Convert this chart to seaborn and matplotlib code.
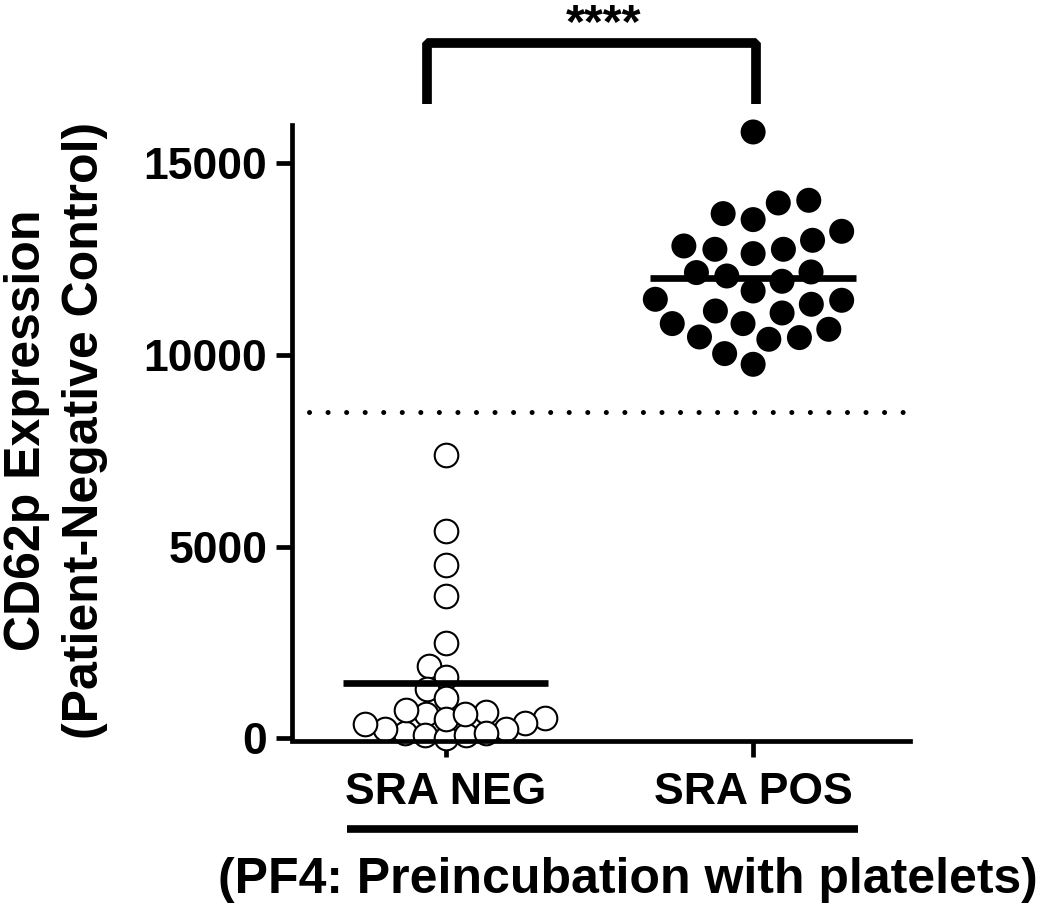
import numpy as np
import pandas as pd
import matplotlib
matplotlib.use("Agg")
import matplotlib.pyplot as plt
import seaborn as sns
from matplotlib.lines import Line2D

# ---------------- data ----------------
categories = ["SRA NEG", "SRA POS"]
neg_values = [7383, 5400, 4513, 3705, 2496, 1887, 1600, 1296, 1061,
              687, 644, 530, 400, 253, 139, 78, 0, 78, 139, 253, 383, 513, 644, 730]
pos_values = [15818, 13966, 13688, 14036, 13532, 13227, 12992, 12757, 12645,
              12757, 12844, 12150, 11923, 12061, 12166, 11670, 11427, 11453,
              11323, 11148, 11096, 10819, 10819, 10670, 10470, 10410, 10454,
              10036, 9757]
yticks = [0, 5000, 10000, 15000]
ytick_labels = ["0", "5000", "10000", "15000"]
threshold = 8500
sig_label = "****"
ylabel_text = "CD62p Expression\n(Patient-Negative Control)"
xlabel_text = "(PF4: Preincubation with platelets)"

df = pd.DataFrame({
    "group": [categories[0]] * len(neg_values) + [categories[1]] * len(pos_values),
    "value": neg_values + pos_values,
})

# ---------------- style ----------------
sns.set_theme(style="ticks")
plt.rcParams["font.family"] = ["Liberation Sans", "DejaVu Sans"]
plt.rcParams["font.weight"] = "bold"
plt.rcParams["axes.labelweight"] = "bold"
for k in ("text.color", "axes.labelcolor", "xtick.color", "ytick.color", "axes.edgecolor"):
    plt.rcParams[k] = "black"

W, H = 1050, 910
fig = plt.figure(figsize=(W / 100, H / 100), dpi=100)
ax = fig.add_axes([291.7 / W, 1 - 738.3 / H, (910 - 291.7) / W, (738.3 - 125) / H])
ax.set_xlim(-0.5, 1.51)
ax.set_ylim(0, 16000)

# swarm layouts computed by seaborn (layout size chosen to mimic GraphPad overlap)
sns.swarmplot(data=df[df.group == categories[0]], x="group", y="value", order=categories,
              ax=ax, size=12.5, color="white", edgecolor="black", linewidth=1.5)
n_before = len(ax.collections)
sns.swarmplot(data=df[df.group == categories[1]], x="group", y="value", order=categories,
              ax=ax, size=21, color="black", linewidth=0)
ax.set_xlim(-0.5, 1.51)
ax.set_ylim(0, 16000)
fig.canvas.draw()


def swarm_offsets(colls, n):
    for c in colls:
        off = np.asarray(c.get_offsets())
        if off.ndim == 2 and off.shape[0] == n:
            return off.copy()
    return np.empty((0, 2))


neg_xy = swarm_offsets(ax.collections[:n_before], len(neg_values))
pos_xy = swarm_offsets(ax.collections[n_before:], len(pos_values))
for coll in list(ax.collections):
    coll.remove()

# redraw the swarm points at their displayed size, unclipped
ax.scatter(neg_xy[:, 0], neg_xy[:, 1], s=17 ** 2, facecolor="white", edgecolor="black",
           linewidth=1.5, clip_on=False, zorder=2)
ax.scatter(pos_xy[:, 0], pos_xy[:, 1], s=18 ** 2, facecolor="black", edgecolor="none",
           clip_on=False, zorder=2)

# mean lines
for i, vals in enumerate([neg_values, pos_values]):
    m = np.mean(vals)
    ax.plot([i - 0.334, i + 0.334], [m, m], color="black", lw=4.8,
            solid_capstyle="butt", zorder=3)

# threshold dotted line
ax.plot([-0.4426, 1.50], [threshold, threshold], color="black", lw=3.6,
        linestyle=(0, (0.01, 3.7)), dash_capstyle="round", zorder=1)

# significance bracket
ax.plot([-0.0586, -0.0586, 1.0104, 1.0104], [16547, 18146, 18146, 16547],
        color="black", lw=7, solid_joinstyle="bevel", solid_capstyle="butt", clip_on=False)
ax.text(0.514, 18295, sig_label, ha="center", va="baseline", fontsize=35,
        fontweight="bold", clip_on=False)

# axes styling
sns.despine(ax=ax)
for s in ("left", "bottom"):
    ax.spines[s].set_linewidth(3.4)
ax.spines["bottom"].set_position(("outward", 2))
ax.set_yticks(yticks)
ax.set_yticklabels(ytick_labels, fontsize=32, fontweight="bold")
ax.set_xticks(range(len(categories)))
ax.set_xticklabels(categories, fontsize=32, fontweight="bold")
ax.tick_params(axis="both", length=11.5, width=3.4, color="black", labelcolor="black")
ax.tick_params(axis="y", pad=6)
ax.tick_params(axis="x", pad=11)
ax.set_xlabel("")
ax.set_ylabel("")
ax.set_xlim(-0.5, 1.51)
ax.set_ylim(0, 16000)

# y label (two lines)
fig.text(56 / W, 1 - 430 / H, ylabel_text, rotation=90, ha="center", va="center",
         fontsize=36, fontweight="bold", linespacing=1.32, multialignment="center")

# underline bar and bottom label
fig.add_artist(Line2D([347 / W, 858 / W], [1 - 829 / H, 1 - 829 / H], lw=5.5,
                      color="black", solid_capstyle="butt"))
fig.text(628 / W, 1 - 880 / H, xlabel_text, ha="center", va="center",
         fontsize=36, fontweight="bold")

fig.savefig("out.png", dpi=100)
